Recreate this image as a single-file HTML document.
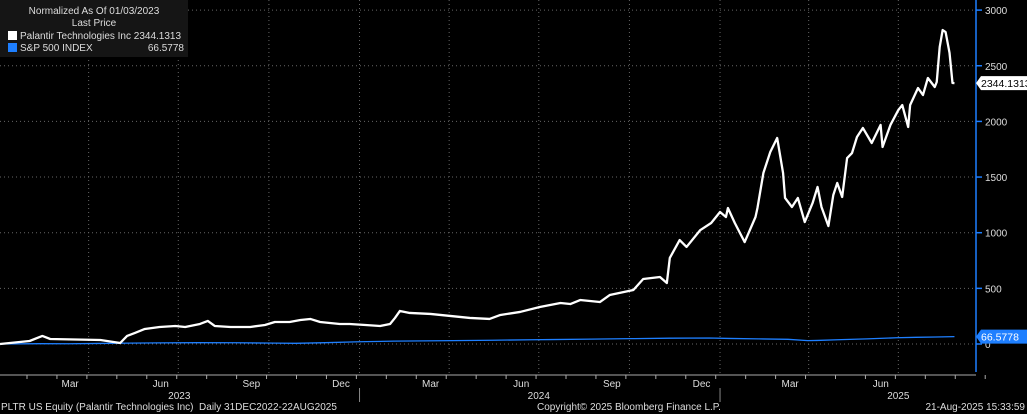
<!DOCTYPE html>
<html><head><meta charset="utf-8"><style>
html,body{margin:0;padding:0;background:#000;width:1027px;height:414px;overflow:hidden}
svg{display:block}
text{font-family:"Liberation Sans",sans-serif}
.lg{white-space:nowrap}
</style></head><body>
<svg id="c" width="1027" height="414"></svg>
<script>
// data: days since 01 Jan 2023, normalized % change
const pltrDays=[0,30,43,51,102,122,129,137,147,162,178,188,203,211,218,234,254,269,279,294,305,315,325,345,355,371,386,396,401,406,416,437,457,477,497,508,528,548,569,579,589,609,619,643,653,670,677,680,690,697,711,722,731,737,739,746,756,767,769,775,782,789,795,797,804,810,817,825,830,834,841,846,850,855,860,865,870,876,885,894,896,904,912,916,922,924,932,937,942,949,951,954,957,960,964,967,969];
const pltrVals=[0,27,72,45,36,9,72,99,135,153,162,153,180,207,162,153,153,171,198,198,216,225,198,180,180,171,162,180,234,297,279,270,252,234,225,261,288,332,368,359,395,377,440,485,584,602,548,773,934,872,1024,1087,1186,1141,1222,1087,916,1141,1222,1536,1725,1851,1536,1312,1231,1312,1096,1267,1411,1231,1060,1339,1447,1321,1671,1716,1860,1941,1806,1968,1770,1968,2102,2147,1950,2147,2300,2237,2390,2309,2354,2668,2821,2803,2615,2345,2344];
const spxDays=[0,40,70,100,130,160,200,240,280,300,330,365,400,430,460,500,540,560,600,640,680,720,740,770,800,820,830,850,880,910,930,950,969];
const spxVals=[0,3,2,5,8,10,12,11,8,6,12,20,26,28,30,34,38,40,44,48,52,54,50,46,42,30,32,38,46,56,60,63,66.58];
const yTicks=[0,500,1000,1500,2000,2500,3000];
const monthLabels=[["Mar",59],["Jun",151],["Sep",243],["Dec",334],["Mar",425],["Jun",517],["Sep",609],["Dec",700],["Mar",790],["Jun",882]];
const gridDays=[90,181,273,365,456,547,639,731,821,912];
const years=[["2023",182],["2024",547],["2025",912]];

const S="http://www.w3.org/2000/svg",svg=document.getElementById('c');
const X=d=>d*0.985, Y=v=>344-v*0.1113;
function el(t,a,p){const e=document.createElementNS(S,t);for(const k in a)e.setAttribute(k,a[k]);(p||svg).appendChild(e);return e;}
function txt(s,a){const e=el('text',a);e.textContent=s;return e;}

yTicks.forEach(v=>{
 const g=el('line',{x1:0,x2:976,y1:Y(v),y2:Y(v),stroke:'#666','stroke-dasharray':'1,3','stroke-width':1});
 
 
 const tk=el('line',{x1:976,x2:982,y1:Y(v),y2:Y(v),stroke:'#1e7fff','stroke-width':1.5});
 
 
 const t=txt(String(v),{x:985,y:Y(v)+4,fill:'#ddd','font-size':10});
 
 
});
gridDays.forEach(d=>{
 const g=el('line',{x1:X(d),x2:X(d),y1:0,y2:375,stroke:'#666','stroke-dasharray':'1,3','stroke-width':1});
 
 
});
for(let d=0;d<975;d+=30.4){
 const tk=el('line',{x1:X(d)+27,x2:X(d)+27,y1:375,y2:379,stroke:'#aaa'});
 
 
}
monthLabels.forEach(([m,d])=>{
 const t=txt(m,{x:X(d)+12,y:387,fill:'#ddd','font-size':10,'text-anchor':'middle'});
 
 
});
years.forEach(([y,d])=>{
 const t=txt(y,{x:X(d),y:399,fill:'#ddd','font-size':10,'text-anchor':'middle'});
 
 
});
[365,731].forEach(d=>{const l=el('line',{x1:X(d),x2:X(d),y1:388,y2:402,stroke:'#888'});
 
 });
const ax=el('line',{x1:0,x2:976,y1:375,y2:375,stroke:'#aaa'});


const ay=el('line',{x1:976,x2:976,y1:0,y2:372,stroke:'#1e7fff','stroke-width':1.5});



const sp=el('polyline',{points:spxDays.map((d,i)=>X(d)+','+Y(spxVals[i])).join(' '),fill:'none',stroke:'#1e7fff','stroke-width':1.3});


const pl=el('polyline',{points:pltrDays.map((d,i)=>X(d)+','+Y(pltrVals[i])).join(' '),fill:'none',stroke:'#fff','stroke-width':2.3,'stroke-linejoin':'round'});



function tag(v,label,bg,fg,name){
 const y=Y(v);
 const g=el('g',{});
 
 
 el('path',{d:`M976 ${y} L981 ${y-7} L1027 ${y-7} L1027 ${y+7} L981 ${y+7} Z`,fill:bg},g);
 const t=el('text',{x:981,y:y+4,fill:fg,'font-size':10.5},g);t.textContent=label;
}
tag(pltrVals[pltrVals.length-1],'2344.1313','#fff','#000','pltr-last-value-tag');
tag(spxVals[spxVals.length-1],'66.5778','#1e7fff','#fff','spx-last-value-tag');
</script>
<div style="position:absolute;left:0;top:0;width:188px;height:57px;background:#151515;font:10px 'Liberation Sans',sans-serif;color:#ddd">
 <div class="lg" style="position:absolute;left:0;width:188px;top:6px;text-align:center">Normalized As Of 01/03/2023</div>
 <div class="lg" style="position:absolute;left:0;width:188px;top:18px;text-align:center">Last Price</div>
 <div class="lg" style="position:absolute;left:8px;top:31px"><span style="display:inline-block;width:9px;height:9px;background:#fff;vertical-align:-1px;margin-right:3px"></span>Palantir Technologies Inc 2344.1313</div>
 <div class="lg" style="position:absolute;left:8px;top:43px;width:176px"><span style="display:inline-block;width:9px;height:9px;background:#1e7fff;vertical-align:-1px;margin-right:3px"></span>S&amp;P 500 INDEX<span style="position:absolute;right:0">66.5778</span></div>
</div>
<div style="position:absolute;left:1px;top:402px;font:10px 'Liberation Sans',sans-serif;color:#ddd;white-space:nowrap">PLTR US Equity (Palantir Technologies Inc)&nbsp; Daily 31DEC2022-22AUG2025</div>
<div style="position:absolute;left:537px;top:402px;font:10px 'Liberation Sans',sans-serif;color:#ddd;white-space:nowrap">Copyright© 2025 Bloomberg Finance L.P.</div>
<div style="position:absolute;right:2px;top:402px;font:10px 'Liberation Sans',sans-serif;color:#ddd;white-space:nowrap">21-Aug-2025 15:33:59</div>
</body></html>
